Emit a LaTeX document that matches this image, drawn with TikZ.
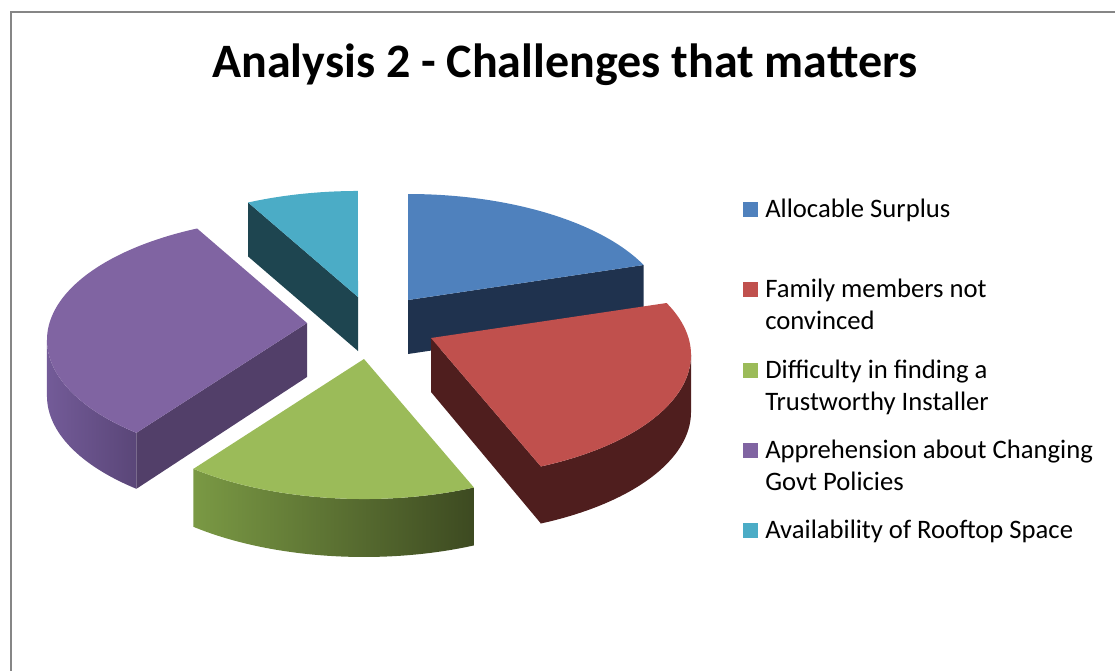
\documentclass[tikz,border=0pt]{standalone}
\usepackage{fontspec}
\setmainfont{Carlito}
\definecolor{blueTop}{HTML}{4F81BD}
\definecolor{blueSide}{HTML}{1F324E}
\definecolor{redTop}{HTML}{C0504D}
\definecolor{redSide}{HTML}{4F1E1E}
\definecolor{greenTop}{HTML}{9BBB59}
\definecolor{greenLight}{HTML}{7A9944}
\definecolor{greenDark}{HTML}{3D4A21}
\definecolor{purpleTop}{HTML}{8064A2}
\definecolor{purpleSide}{HTML}{523F69}
\definecolor{purpleLight}{HTML}{735B98}
\definecolor{purpleDark}{HTML}{5A4678}
\definecolor{cyanTop}{HTML}{4BACC6}
\definecolor{cyanSide}{HTML}{1E4550}
\definecolor{frameGray}{HTML}{868686}

\begin{document}
\begin{tikzpicture}[x=0.75pt,y=0.75pt,yscale=-1,xscale=1,
    rim/.style={x radius=260,y radius=123},
    keybox/.style={inner sep=0pt,minimum size=11.25pt},
    keytext/.style={anchor=base west,inner sep=0pt,align=left,font=\fontsize{20}{24}\selectfont}]
\useasboundingbox (0,0) rectangle (1115,671);
\draw [color=frameGray, line width=1.5] (11,671) -- (11,12) -- (1115,12);
% availability of rooftop space
\fill [cyanSide] (358,297) -- (248.1,202.5) -- (248.1,256.5) -- (358,351) -- cycle;
\fill [cyanTop] (358,297) -- (248.1,202.5) arc[start angle=245,end angle=270,rim] -- cycle;
% allocable surplus
\fill [blueSide] (408,300) -- (643.6,265) -- (643.6,319) -- (408,354) -- cycle;
\fill [blueTop] (408,300) -- (408,194) arc[start angle=-90,end angle=-25,rim] -- cycle;
% apprehension about govt policies
\shade [left color=purpleLight,right color=purpleDark] (47,340) arc[start angle=180,end angle=131,rim] -- (136.4,488.8) arc[start angle=131,end angle=180,rim] -- cycle;
\fill [purpleSide] (307,323) -- (136.4,432.8) -- (136.4,488.8) -- (307,377) -- cycle;
\fill [purpleTop] (307,323) -- (136.4,432.8) arc[start angle=131,end angle=245,rim] -- cycle;
% trustworthy installer
\shade [left color=greenLight,right color=greenDark] (473.9,487.5) arc[start angle=65,end angle=131,rim] -- (193.4,526.8) arc[start angle=131,end angle=65,rim] -- cycle;
\fill [greenTop] (364,359) -- (473.9,487.5) arc[start angle=65,end angle=131,rim] -- cycle;
% family members
\fill [redSide] (691,355) arc[start angle=0,end angle=65,rim] -- (540.9,523.5) arc[start angle=65,end angle=0,rim] -- cycle;
\fill [redSide] (431,338) -- (540.9,466.5) -- (540.9,523.5) -- (431,392) -- cycle;
\fill [redTop] (431,338) -- (666.6,303) arc[start angle=-25,end angle=65,rim] -- cycle;
% title
\node [font=\bfseries\fontsize{36}{43}\selectfont, anchor=base] (title) at (565,77) {Analysis 2 - Challenges that matters};
% legend
\node [keybox, fill=blueTop] (kSurplus) at (750.5,209.5) {};
\node [keytext] (tSurplus) at (765,217) {Allocable Surplus};
\node [keybox, fill=redTop] (kFamily) at (750.5,289.5) {};
\node [keytext] (tFamily) at (765,329) {Family members not\\convinced};
\node [keybox, fill=greenTop] (kInstaller) at (750.5,370.5) {};
\node [keytext] (tInstaller) at (765,410) {Difficulty in finding a\\Trustworthy Installer};
\node [keybox, fill=purpleTop] (kPolicies) at (750.5,450.5) {};
\node [keytext] (tPolicies) at (765,490) {Apprehension about Changing\\Govt Policies};
\node [keybox, fill=cyanTop] (kRooftop) at (750.5,530.5) {};
\node [keytext] (tRooftop) at (765,538) {Availability of Rooftop Space};
\end{tikzpicture}
\end{document}
